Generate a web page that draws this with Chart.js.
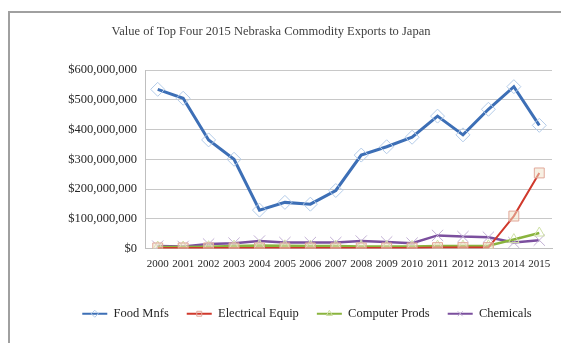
<!DOCTYPE html>
<html lang="en">
  <head>
    <meta charset="UTF-8" />
    <title>Nebraska exports to Japan</title>
    <style>
      * {
        margin: 0;
        padding: 0;
      }
      body {
        width: 561px;
        height: 343px;
        overflow: hidden;
        background: #fff;
        position: relative;
      }
      .frame {
        position: absolute;
        left: 8px;
        top: 11px;
        width: 620px;
        height: 400px;
        border: 2px solid #a0a0a0;
      }
      .chartBox {
        position: absolute;
        left: 0;
        top: 0;
        width: 561px;
        height: 343px;
      }
    </style>
  </head>
  <body>
    <div class="frame"></div>
    <div class="chartBox">
      <canvas id="myChart" width="561" height="343"></canvas>
    </div>

    <script src="https://cdn.jsdelivr.net/npm/chart.js"></script>

    <script>
      // data block
      const years = ["2000", "2001", "2002", "2003", "2004", "2005", "2006", "2007",
        "2008", "2009", "2010", "2011", "2012", "2013", "2014", "2015"];
      const foodMnfs = [535e6, 505e6, 365e6, 300e6, 129e6, 155e6, 149e6, 195e6,
        314e6, 342e6, 374e6, 445e6, 382e6, 468e6, 544e6, 414e6];
      const electricalEquip = [2e6, 2e6, 2e6, 2e6, 2e6, 2e6, 2e6, 2e6,
        2e6, 2e6, 2e6, 3e6, 3e6, 3e6, 109e6, 254e6];
      const computerProds = [5e6, 5e6, 6e6, 8e6, 10e6, 9e6, 8e6, 8e6,
        7e6, 7e6, 7e6, 8e6, 8e6, 9e6, 30e6, 52e6];
      const chemicals = [8e6, 7e6, 15e6, 18e6, 25e6, 20e6, 20e6, 20e6,
        25e6, 22e6, 18e6, 44e6, 40e6, 38e6, 20e6, 28e6];

      const serif = "'Liberation Serif', 'DejaVu Serif', serif";

      const data = {
        labels: years,
        datasets: [
          {
            label: "Food Mnfs",
            data: foodMnfs,
            borderColor: "#3d6fb6",
            backgroundColor: "#3d6fb6",
            borderWidth: 3,
            pointStyle: "rectRot",
            pointRadius: 7,
            pointBorderColor: "#b3cbe8",
            pointBackgroundColor: "rgba(255,255,255,0)",
            pointBorderWidth: 1
          },
          {
            label: "Electrical Equip",
            data: electricalEquip,
            borderColor: "#d0392c",
            backgroundColor: "#d0392c",
            borderWidth: 2,
            pointStyle: "rect",
            pointRadius: 7,
            pointBorderColor: "#e2a89a",
            pointBackgroundColor: "rgba(240,225,200,0.5)",
            pointBorderWidth: 1
          },
          {
            label: "Computer Prods",
            data: computerProds,
            borderColor: "#8ab43e",
            backgroundColor: "#8ab43e",
            borderWidth: 2.5,
            pointStyle: "triangle",
            pointRadius: 6,
            pointBorderColor: "#cfe0a6",
            pointBackgroundColor: "rgba(255,255,255,0)",
            pointBorderWidth: 1
          },
          {
            label: "Chemicals",
            data: chemicals,
            borderColor: "#7b4f9e",
            backgroundColor: "#7b4f9e",
            borderWidth: 2.5,
            pointStyle: "crossRot",
            pointRadius: 8,
            pointBorderColor: "#c2b0d4",
            pointBackgroundColor: "rgba(255,255,255,0)",
            pointBorderWidth: 1
          }
        ]
      };

      // shift title and legend sideways to where the original has them
      const shiftBlocks = {
        id: "shiftBlocks",
        afterLayout(chart) {
          chart.titleBlock.left -= 24;
          chart.titleBlock.right -= 24;
          const lg = chart.legend;
          lg.legendHitBoxes.forEach((b) => (b.left += 12));
          lg.left += 12;
          lg.right += 12;
        },
        // small marker in the middle of each legend line
        afterDraw(chart) {
          const c = chart.ctx;
          const bw = chart.options.plugins.legend.labels.boxWidth;
          chart.legend.legendHitBoxes.forEach((b, i) => {
            const ds = chart.data.datasets[i];
            c.save();
            c.strokeStyle = ds.pointBorderColor;
            c.fillStyle = "rgba(255,255,255,0)";
            c.lineWidth = 1;
            Chart.helpers.drawPoint(
              c,
              { pointStyle: ds.pointStyle, radius: 3.5, rotation: 0, borderWidth: 1 },
              b.left + bw / 2,
              b.top + b.height / 2
            );
            c.restore();
          });
        }
      };

      // config block
      const config = {
        type: "line",
        data,
        options: {
          responsive: false,
          animation: false,
          layout: {
            padding: { left: 30, right: 1, top: 16, bottom: 13 }
          },
          plugins: {
            title: {
              display: true,
              text: "Value of Top Four 2015 Nebraska Commodity Exports to Japan",
              color: "#404040",
              font: { family: serif, size: 12.5, weight: "normal" },
              padding: { top: 8, bottom: 31 }
            },
            legend: {
              position: "bottom",
              labels: {
                color: "#262626",
                font: { family: serif, size: 12.5 },
                boxWidth: 25,
                boxHeight: 2,
                padding: 18,
                generateLabels: (chart) =>
                  Chart.defaults.plugins.legend.labels
                    .generateLabels(chart)
                    .map((l) => ({ ...l, fillStyle: l.strokeStyle, lineWidth: 0 }))
              }
            },
            tooltip: { enabled: false }
          },
          scales: {
            x: {
              offset: true,
              grid: { display: false, drawTicks: false },
              border: { color: "#bfbfbf" },
              ticks: {
                color: "#262626",
                font: { family: serif, size: 11 },
                maxRotation: 0,
                autoSkip: false,
                padding: 9
              },
              afterFit: (scale) => {
                scale.height = 41;
              }
            },
            y: {
              min: 0,
              max: 600000000,
              grid: { color: "#c8c8c8", drawTicks: false },
              border: { color: "#bfbfbf" },
              ticks: {
                stepSize: 100000000,
                color: "#262626",
                font: { family: serif, size: 12.5 },
                padding: 8,
                callback: (v) => "$" + v.toLocaleString("en-US")
              },
              afterFit: (scale) => {
                scale.width = 115;
              }
            }
          }
        },
        plugins: [shiftBlocks]
      };

      // init render block
      const ctx = document.getElementById("myChart");
      const myChart = new Chart(ctx, config);
    </script>
  </body>
</html>
